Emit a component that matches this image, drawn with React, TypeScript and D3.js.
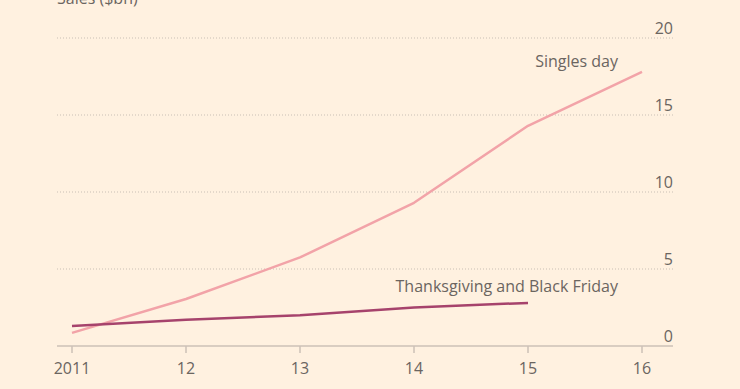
import React from "react";
import * as d3 from "d3";

const years = [2011, 2012, 2013, 2014, 2015, 2016];
const yearLabels = ["2011", "12", "13", "14", "15", "16"];
const singlesDay = [0.85, 3.05, 5.75, 9.3, 14.3, 17.8];
const thanksgivingYears = [2011, 2012, 2013, 2014, 2015];
const thanksgivingBF = [1.3, 1.7, 2.0, 2.5, 2.8];
const yTicks = [0, 5, 10, 15, 20];

const W = 740;
const H = 389;
const BG = "#fff1e0";
const TEXT = "#6b6560";
const FONT = "'Open Sans', sans-serif";

export default function App() {
  const x = d3.scaleLinear().domain([2011, 2016]).range([72, 642]);
  const y = d3.scaleLinear().domain([0, 20]).range([346, 38]);
  const line = d3
    .line<[number, number]>()
    .x((d) => x(d[0]))
    .y((d) => y(d[1]))
    .curve(d3.curveLinear);
  const sdData = years.map((yr, i) => [yr, singlesDay[i]] as [number, number]);
  const tbData = thanksgivingYears.map((yr, i) => [yr, thanksgivingBF[i]] as [number, number]);
  const left = 57;
  const right = 673;
  return (
    <svg
      width={W}
      height={H}
      style={{ position: "absolute", left: 0, top: 0, background: BG, display: "block" }}
    >
      <rect x={0} y={0} width={W} height={H} fill={BG} />
      <text x={left} y={4} fill={TEXT} fontFamily={FONT} fontSize={16}>
        Sales ($bn)
      </text>
      {yTicks.map((t) =>
        t === 0 ? null : (
          <line
            key={"g" + t}
            x1={left}
            x2={right}
            y1={y(t)}
            y2={y(t)}
            stroke="#c9bfb5"
            strokeWidth={1}
            strokeDasharray="1,2"
          />
        )
      )}
      {yTicks.map((t) => (
        <text
          key={"yl" + t}
          x={right}
          y={y(t) - 4}
          textAnchor="end"
          fill={TEXT}
          fontFamily={FONT}
          fontSize={16}
        >
          {t}
        </text>
      ))}
      <line x1={left} x2={right} y1={y(0)} y2={y(0)} stroke="#ccc1b7" strokeWidth={1.5} />
      {years.map((yr, i) => (
        <g key={"xt" + yr}>
          <line x1={x(yr)} x2={x(yr)} y1={y(0)} y2={y(0) + 7} stroke="#ccc1b7" strokeWidth={1.5} />
          <text
            x={x(yr)}
            y={374}
            textAnchor="middle"
            fill={TEXT}
            fontFamily={FONT}
            fontSize={16}
          >
            {yearLabels[i]}
          </text>
        </g>
      ))}
      <path
        d={line(sdData) || ""}
        fill="none"
        stroke="#f2a3a8"
        strokeWidth={2.5}
        strokeLinejoin="round"
      />
      <path
        d={line(tbData) || ""}
        fill="none"
        stroke="#a6436c"
        strokeWidth={2.5}
        strokeLinejoin="round"
      />
      <text x={618} y={67} textAnchor="end" fill={TEXT} fontFamily={FONT} fontSize={16}>
        Singles day
      </text>
      <text x={618} y={292} textAnchor="end" fill={TEXT} fontFamily={FONT} fontSize={16}>
        Thanksgiving and Black Friday
      </text>
    </svg>
  );
}
